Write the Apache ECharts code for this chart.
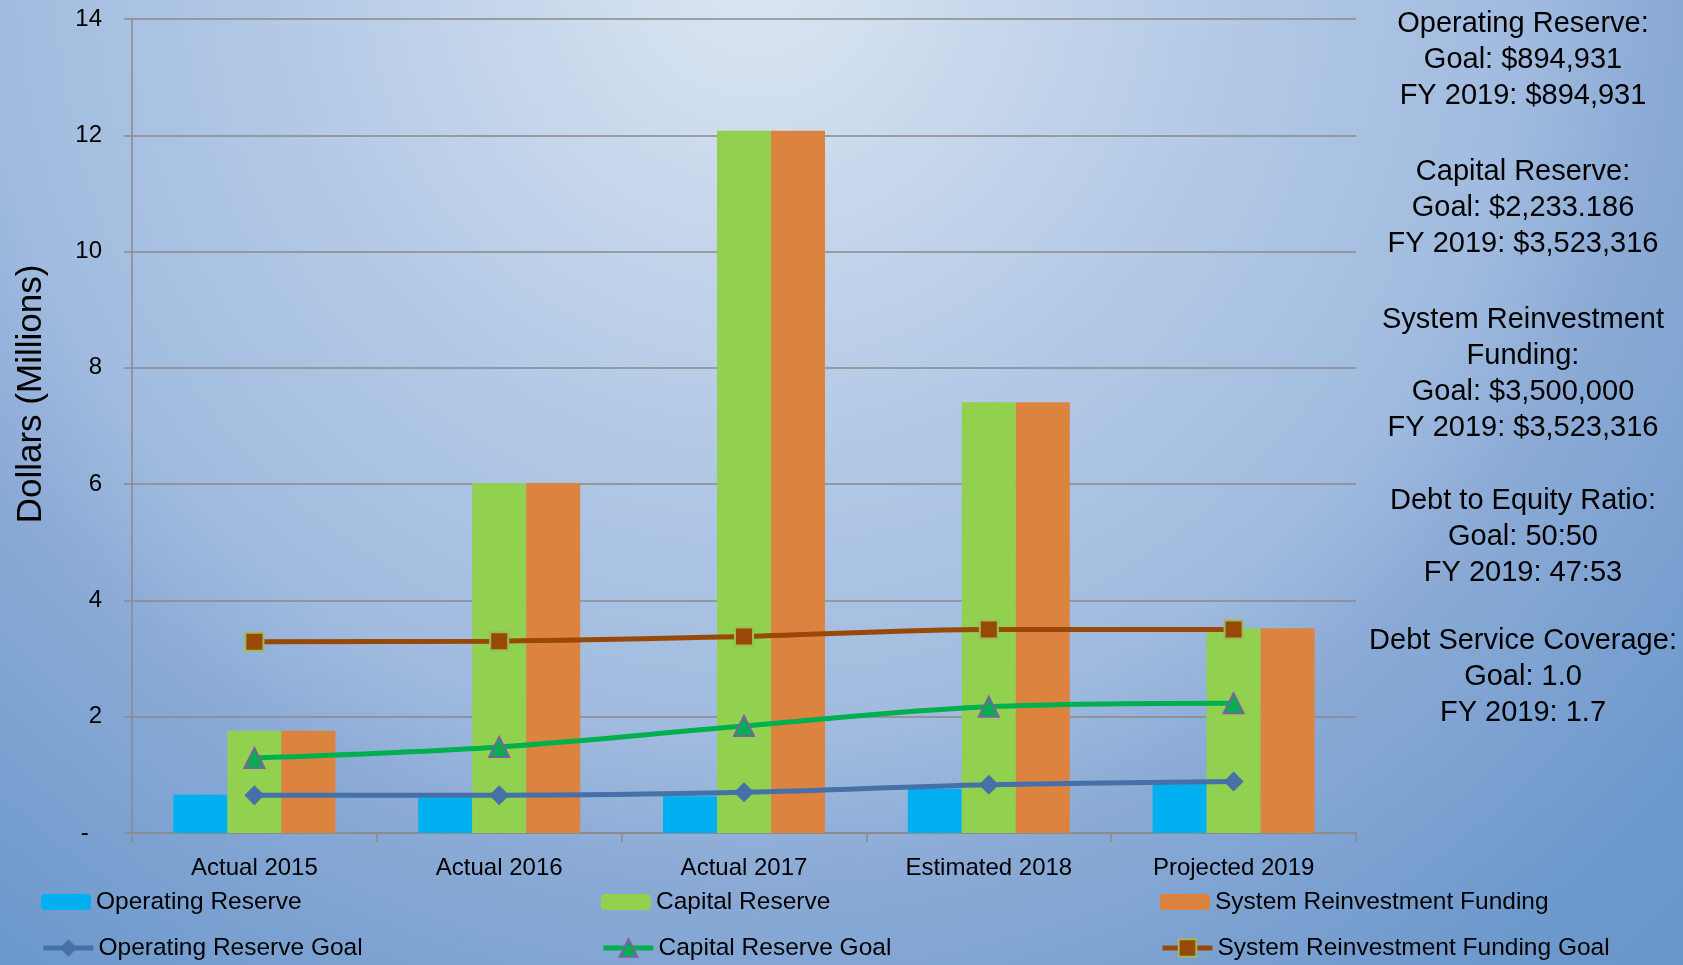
<!DOCTYPE html>
<html>
<head>
<meta charset="utf-8">
<script src="https://cdn.jsdelivr.net/npm/echarts@6/dist/echarts.min.js"></script>
<style>
html,body{margin:0;padding:0;background:#fff;}
#chart{width:1683px;height:965px;}
</style>
</head>
<body>
<div id="chart"></div>
<script>
var categories = ['Actual 2015', 'Actual 2016', 'Actual 2017', 'Estimated 2018', 'Projected 2019'];
var operatingReserve = [0.66, 0.61, 0.63, 0.76, 0.84];
var capitalReserve = [1.76, 6.02, 12.08, 7.41, 3.52];
var systemReinvestment = [1.76, 6.02, 12.08, 7.41, 3.52];
var operatingGoal = [0.65, 0.65, 0.70, 0.83, 0.885];
var capitalGoal = [1.29, 1.48, 1.84, 2.17, 2.23];
var systemGoal = [3.29, 3.30, 3.38, 3.50, 3.50];
var sideNotes = [
  ['Operating Reserve:', 'Goal: $894,931', 'FY 2019: $894,931'],
  ['Capital Reserve:', 'Goal: $2,233.186', 'FY 2019: $3,523,316'],
  ['System Reinvestment', 'Funding:', 'Goal: $3,500,000', 'FY 2019: $3,523,316'],
  ['Debt to Equity Ratio:', 'Goal: 50:50', 'FY 2019: 47:53'],
  ['Debt Service Coverage:', 'Goal: 1.0', 'FY 2019: 1.7']
];
var noteTops = [6, 154, 302, 483, 623];

var FONT = '"Liberation Sans", Arial, sans-serif';
var chart = echarts.init(document.getElementById('chart'));

var graphics = [{
  type: 'rect', z: -10, silent: true,
  shape: {x: 0, y: 0, width: 1683, height: 965},
  style: {fill: {type: 'radial', x: 757, y: -30, r: 1400, global: true, colorStops: [
    {offset: 0, color: '#DCE6F2'},
    {offset: 0.33, color: '#B4CAE6'},
    {offset: 0.55, color: '#A0BBDF'},
    {offset: 0.64, color: '#8CABD6'},
    {offset: 0.86, color: '#6F9ACD'},
    {offset: 1, color: '#6793CA'}
  ]}}
}, {
  type: 'text', x: 31, y: 394, rotation: Math.PI / 2, silent: true,
  style: {text: 'Dollars (Millions)', font: '35px ' + FONT, fill: '#000', align: 'center', verticalAlign: 'middle'}
}];
sideNotes.forEach(function (lines, i) {
  graphics.push({
    type: 'text', x: 1523, y: noteTops[i], silent: true,
    style: {text: lines.join('\n'), font: '29px ' + FONT, lineHeight: 36, fill: '#000', align: 'center', verticalAlign: 'top'}
  });
});

function makeLegend(left, top, name, ih) {
  return {
    orient: 'horizontal', left: left, top: top, padding: 0,
    itemWidth: 50, itemHeight: ih,
    textStyle: {fontFamily: FONT, fontSize: 24.5, color: '#000', lineHeight: 30},
    lineStyle: {width: 5},
    selectedMode: false,
    data: [name]
  };
}

var option = {
  animation: false,
  graphic: graphics,
  legend: [
    makeLegend(41, 887, 'Operating Reserve', 16),
    makeLegend(601, 887, 'Capital Reserve', 16),
    makeLegend(1160, 887, 'System Reinvestment Funding', 16),
    makeLegend(41, 933, 'Operating Reserve Goal', 22),
    makeLegend(601, 933, 'Capital Reserve Goal', 22),
    makeLegend(1160, 933, 'System Reinvestment Funding Goal', 22)
  ],
  grid: {left: 132, right: 327, top: 19, bottom: 132, containLabel: false},
  xAxis: {
    type: 'category', data: categories,
    axisLine: {lineStyle: {color: '#8A8A8A', width: 1.5}},
    axisTick: {show: true, length: 9, lineStyle: {color: '#8A8A8A', width: 1.5}},
    axisLabel: {fontFamily: FONT, fontSize: 24, color: '#000', margin: 23}
  },
  yAxis: {
    type: 'value', min: 0, max: 14, interval: 2,
    axisLine: {show: true, lineStyle: {color: '#8A8A8A', width: 1.5}},
    axisTick: {show: true, length: 8, lineStyle: {color: '#8A8A8A', width: 1.5}},
    splitLine: {lineStyle: {color: '#8A8A8A', width: 1.5}},
    axisLabel: {fontFamily: FONT, fontSize: 24, color: '#000', margin: 30,
      formatter: function (v) { return v === 0 ? '-  ' : String(v); }}
  },
  series: [
    {name: 'Operating Reserve', type: 'bar', data: operatingReserve, barWidth: 54, barGap: '0%', itemStyle: {color: '#00B0F0'}},
    {name: 'Capital Reserve', type: 'bar', data: capitalReserve, barWidth: 54, barGap: '0%', itemStyle: {color: '#92D050'}},
    {name: 'System Reinvestment Funding', type: 'bar', data: systemReinvestment, barWidth: 54, barGap: '0%', itemStyle: {color: '#DC843F'}},
    {name: 'Operating Reserve Goal', type: 'line', data: operatingGoal, smooth: 0.35, symbol: 'diamond', symbolSize: 20,
      lineStyle: {color: '#4571A8', width: 5}, itemStyle: {color: '#4571A8', borderWidth: 0}, z: 5},
    {name: 'Capital Reserve Goal', type: 'line', data: capitalGoal, smooth: 0.35, symbol: 'triangle', symbolSize: 20,
      lineStyle: {color: '#00B050', width: 5}, itemStyle: {color: '#00B050', borderColor: '#7F5FA0', borderWidth: 2}, z: 5},
    {name: 'System Reinvestment Funding Goal', type: 'line', data: systemGoal, smooth: 0.35, symbol: 'rect', symbolSize: 18,
      lineStyle: {color: '#984807', width: 5}, itemStyle: {color: '#984807', borderColor: '#9BBB59', borderWidth: 2}, z: 5}
  ]
};
chart.setOption(option);
</script>
</body>
</html>
